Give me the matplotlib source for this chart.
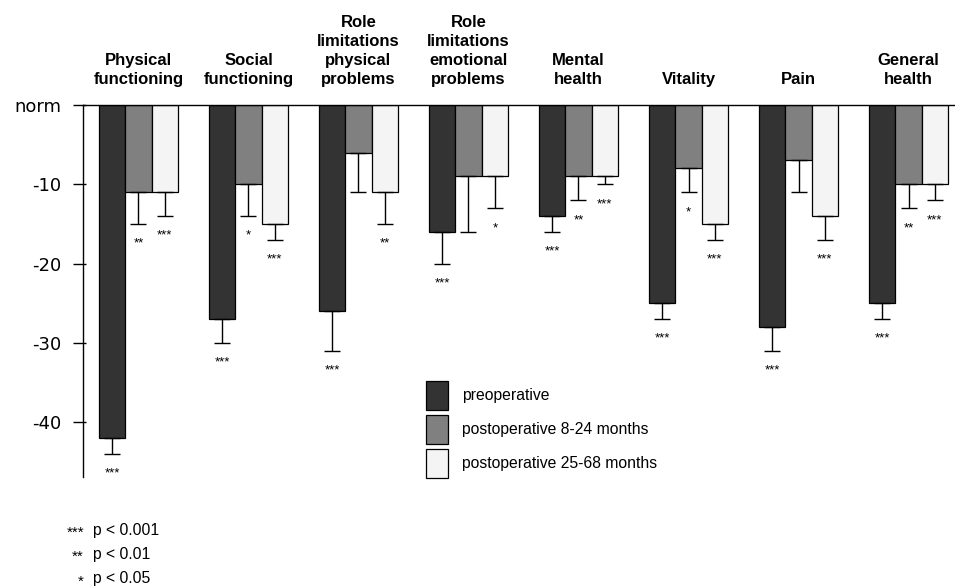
import matplotlib
matplotlib.use("Agg")
import matplotlib.pyplot as plt
import numpy as np
from matplotlib.patches import Patch

# ---------------- data ----------------
categories = ["Physical\nfunctioning", "Social\nfunctioning",
              "Role\nlimitations\nphysical\nproblems",
              "Role\nlimitations\nemotional\nproblems",
              "Mental\nhealth", "Vitality", "Pain", "General\nhealth"]
series_names = ["preoperative", "postoperative 8-24 months",
                "postoperative 25-68 months"]

preoperative = [-42, -27, -26, -16, -14, -25, -28, -25]
preoperative_err = [2, 3, 5, 4, 2, 2, 3, 2]
preoperative_sig = ["***", "***", "***", "***", "***", "***", "***", "***"]

post_8_24 = [-11, -10, -6, -9, -9, -8, -7, -10]
post_8_24_err = [4, 4, 5, 7, 3, 3, 4, 3]
post_8_24_sig = ["**", "*", "", "", "**", "*", "", "**"]

post_25_68 = [-11, -15, -11, -9, -9, -15, -14, -10]
post_25_68_err = [3, 2, 4, 4, 1, 2, 3, 2]
post_25_68_sig = ["***", "***", "**", "*", "***", "***", "***", "***"]

yticks = [0, -10, -20, -30, -40]
ytick_labels = ["norm", "-10", "-20", "-30", "-40"]

footnote_stars = ["***", "**", "*"]
footnote_text = ["p < 0.001", "p < 0.01", "p < 0.05"]

# ---------------- style ----------------
W, H = 955, 588
colors = ["#333333", "#808080", "#f4f4f4"]
FONT = "Liberation Sans"

fig = plt.figure(figsize=(W / 100, H / 100), dpi=100)
ax = fig.add_axes([83 / W, 1 - 477 / H, 1 - 83 / W, (477 - 105) / H])

x = np.arange(len(categories))
width = 0.24
series = [(preoperative, preoperative_err, preoperative_sig),
          (post_8_24, post_8_24_err, post_8_24_sig),
          (post_25_68, post_25_68_err, post_25_68_sig)]

for k, (vals, errs, sigs) in enumerate(series):
    xs = x + (k - 1) * width
    ax.bar(xs, vals, width, color=colors[k], edgecolor="black",
           linewidth=0.9, zorder=2)
    ax.errorbar(xs, vals, yerr=[errs, np.zeros(len(errs))], fmt="none",
                ecolor="black", elinewidth=1, capsize=5.8, capthick=1,
                zorder=3)
    for xi, v, e, s in zip(xs, vals, errs, sigs):
        if s:
            ax.annotate(s, xy=(xi, v - e), xytext=(0, -16.5),
                        textcoords="offset points", ha="center",
                        va="baseline", fontsize=9.5, family=FONT)

for i, cat in enumerate(categories):
    ax.annotate(cat, xy=(x[i], 0), xytext=(0, 13), textcoords="offset points",
                ha="center", va="bottom", fontsize=12, fontweight="bold",
                family=FONT, linespacing=1.34, annotation_clip=False)

ax.set_xlim(-0.5045, 7.4227)
ax.set_ylim(-46.94, 0)
ax.set_xticks([])
ax.set_yticks(yticks)
ax.set_yticklabels(ytick_labels, fontsize=13, family="DejaVu Sans")
ax.set_yticks(yticks, minor=True)
ax.yaxis.remove_overlapping_locs = False
ax.tick_params(axis="y", which="major", direction="out", length=7.2,
               width=1, pad=8.6)
ax.tick_params(axis="y", which="minor", direction="in", length=2.4,
               width=1, labelleft=False)
for side in ["right", "bottom"]:
    ax.spines[side].set_visible(False)
ax.spines["top"].set_linewidth(1)
ax.spines["left"].set_linewidth(1)

handles = [Patch(facecolor=c, edgecolor="black", linewidth=0.9) for c in colors]
fs_leg = 11.3
px = fs_leg * 100 / 72
fig.legend(handles, series_names, loc="upper left",
           bbox_to_anchor=(426 / W, 1 - 381 / H), frameon=False,
           borderpad=0, borderaxespad=0, handlelength=22 / px,
           handleheight=2.465, handletextpad=14 / px, labelspacing=5 / px,
           prop={"family": FONT, "size": fs_leg})

baselines = [534.5, 559, 583.5]
for s, t, b in zip(footnote_stars, footnote_text, baselines):
    fig.text(84 / W, 1 - (b + 2) / H, s, ha="right", va="baseline",
             fontsize=11, family=FONT)
    fig.text(93 / W, 1 - b / H, t, ha="left", va="baseline",
             fontsize=11.3, family=FONT)

fig.savefig("out.png", dpi=100)
